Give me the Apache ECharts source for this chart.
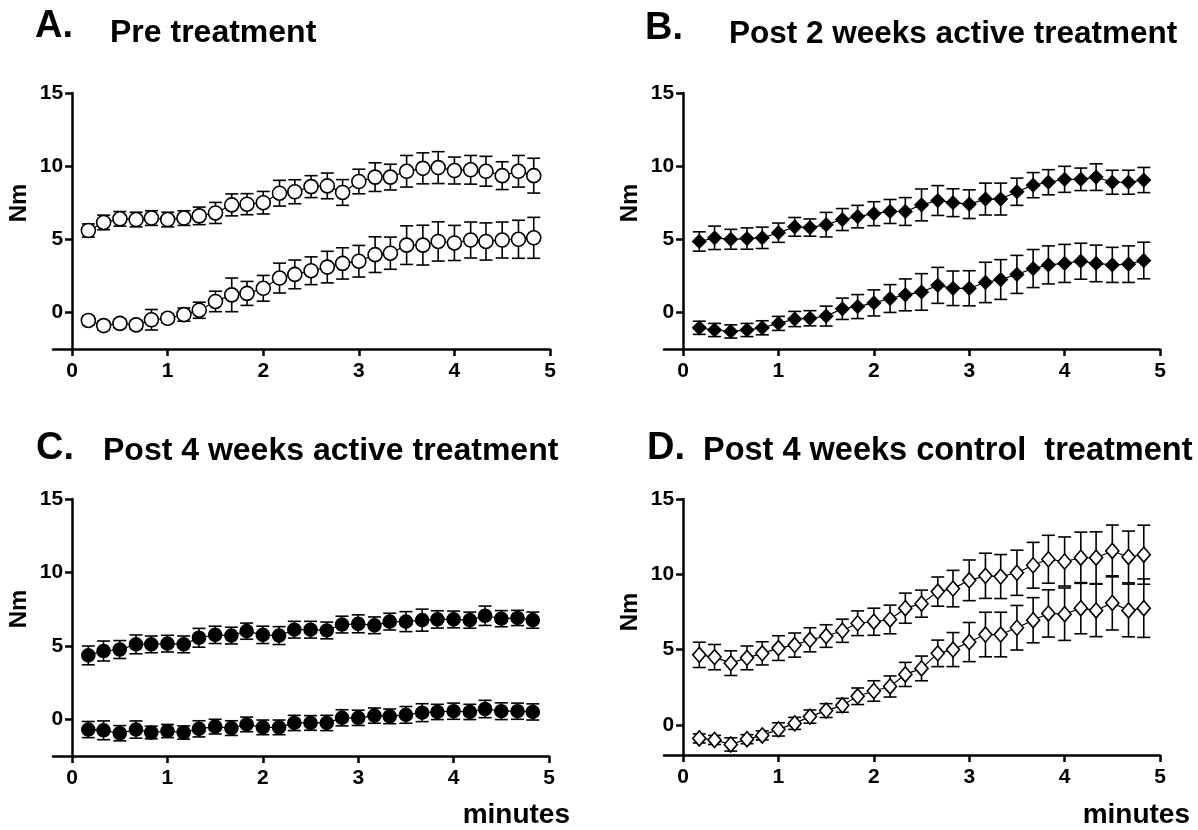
<!DOCTYPE html>
<html>
<head>
<meta charset="utf-8">
<script src="https://cdn.jsdelivr.net/npm/echarts@6/dist/echarts.min.js"></script>
<style>
  html, body { margin: 0; padding: 0; background: #fff; }
  #main { width: 1198px; height: 830px; }
</style>
</head>
<body>
<div id="main"></div>
<script>
// time points (minutes)
var minutes = [0.17, 0.33, 0.5, 0.67, 0.83, 1.0, 1.17, 1.33, 1.5, 1.67, 1.83, 2.0, 2.17, 2.33, 2.5,
  2.67, 2.83, 3.0, 3.17, 3.33, 3.5, 3.67, 3.83, 4.0, 4.17, 4.33, 4.5, 4.67, 4.83];

// A. pre treatment
var preUpper = [5.6, 6.15, 6.4, 6.35, 6.45, 6.35, 6.45, 6.6, 6.8, 7.35, 7.4, 7.5, 8.15, 8.25, 8.6,
  8.65, 8.2, 8.95, 9.25, 9.25, 9.65, 9.85, 9.9, 9.7, 9.75, 9.65, 9.35, 9.65, 9.35];
var preUpperErr = [0.45, 0.5, 0.5, 0.5, 0.5, 0.5, 0.5, 0.6, 0.72, 0.75, 0.72, 0.77, 0.88, 0.82, 0.75,
  0.88, 0.88, 0.84, 0.98, 0.88, 1.08, 1.06, 1.09, 0.92, 0.98, 1.02, 0.95, 1.08, 1.19];
var preLower = [-0.55, -0.9, -0.75, -0.85, -0.5, -0.4, -0.15, 0.15, 0.75, 1.2, 1.3, 1.65, 2.35, 2.6, 2.85,
  3.1, 3.35, 3.5, 3.95, 4.05, 4.6, 4.6, 4.85, 4.75, 4.95, 4.85, 4.95, 5.0, 5.1];
var preLowerErr = [0.3, 0.3, 0.3, 0.3, 0.7, 0.3, 0.45, 0.55, 0.7, 1.15, 0.82, 0.88, 1.02, 0.98, 0.95,
  1.08, 1.07, 1.08, 1.22, 1.1, 1.32, 1.36, 1.34, 1.2, 1.23, 1.27, 1.23, 1.3, 1.4];

// B. post 2 weeks active
var wk2Upper = [4.85, 5.1, 5.0, 5.05, 5.1, 5.45, 5.85, 5.8, 6.0, 6.35, 6.55, 6.75, 6.9, 6.9, 7.35,
  7.65, 7.5, 7.4, 7.75, 7.75, 8.25, 8.7, 8.9, 9.1, 9.1, 9.25, 8.9, 8.9, 9.05];
var wk2UpperErr = [0.66, 0.8, 0.68, 0.73, 0.73, 0.66, 0.64, 0.59, 0.84, 0.75, 0.77, 0.82, 0.82, 0.95, 1.09,
  1.02, 0.95, 0.98, 1.09, 1.09, 0.93, 0.86, 0.86, 0.89, 0.77, 0.91, 0.82, 0.82, 0.86];
var wk2Lower = [-1.05, -1.2, -1.3, -1.2, -1.05, -0.75, -0.45, -0.4, -0.25, 0.25, 0.4, 0.65, 0.95, 1.2, 1.4,
  1.85, 1.65, 1.65, 2.05, 2.25, 2.6, 3.0, 3.25, 3.35, 3.5, 3.35, 3.25, 3.3, 3.55];
var wk2LowerErr = [0.45, 0.45, 0.45, 0.45, 0.48, 0.48, 0.52, 0.52, 0.68, 0.73, 0.82, 0.89, 0.95, 1.09, 1.25,
  1.23, 1.18, 1.2, 1.38, 1.36, 1.3, 1.3, 1.3, 1.3, 1.23, 1.25, 1.2, 1.25, 1.25];

// C. post 4 weeks active
var wk4Upper = [4.35, 4.65, 4.75, 5.1, 5.1, 5.15, 5.1, 5.55, 5.75, 5.7, 6.0, 5.75, 5.7, 6.1, 6.1,
  6.05, 6.45, 6.5, 6.4, 6.65, 6.65, 6.75, 6.8, 6.8, 6.75, 7.05, 6.85, 6.9, 6.75];
var wk4UpperErr = [0.64, 0.68, 0.61, 0.64, 0.57, 0.57, 0.57, 0.64, 0.59, 0.57, 0.55, 0.59, 0.61, 0.57, 0.57,
  0.57, 0.57, 0.61, 0.57, 0.57, 0.68, 0.75, 0.59, 0.57, 0.55, 0.66, 0.55, 0.52, 0.55];
var wk4Lower = [-0.7, -0.75, -0.95, -0.7, -0.9, -0.8, -0.9, -0.65, -0.5, -0.6, -0.35, -0.55, -0.55, -0.25, -0.25,
  -0.25, 0.1, 0.1, 0.25, 0.2, 0.3, 0.45, 0.5, 0.55, 0.5, 0.7, 0.55, 0.55, 0.5];
var wk4LowerErr = [0.55, 0.64, 0.52, 0.59, 0.43, 0.45, 0.45, 0.55, 0.5, 0.5, 0.5, 0.5, 0.5, 0.52, 0.5,
  0.52, 0.55, 0.52, 0.52, 0.5, 0.57, 0.61, 0.52, 0.55, 0.52, 0.59, 0.57, 0.55, 0.55];

// D. post 4 weeks control
var ctlUpper = [4.65, 4.5, 4.1, 4.45, 4.75, 5.1, 5.3, 5.65, 5.9, 6.25, 6.75, 6.85, 7.0, 7.75, 8.05,
  8.85, 9.05, 9.6, 9.9, 9.85, 10.1, 10.6, 11.0, 10.85, 11.1, 11.1, 11.55, 11.15, 11.3];
var ctlUpperErr = [0.84, 0.84, 0.82, 0.79, 0.77, 0.82, 0.8, 0.8, 0.75, 0.77, 0.82, 0.9, 0.95, 1.0, 0.9,
  0.97, 1.21, 1.35, 1.5, 1.46, 1.5, 1.52, 1.59, 1.63, 1.7, 1.72, 1.72, 1.72, 1.96];
var ctlLower = [-0.9, -1.0, -1.3, -0.95, -0.7, -0.3, 0.1, 0.55, 0.95, 1.3, 1.9, 2.25, 2.55, 3.35, 3.75,
  4.75, 5.0, 5.5, 6.0, 6.0, 6.45, 6.95, 7.4, 7.35, 7.75, 7.6, 8.1, 7.6, 7.75];
var ctlLowerErr = [0.3, 0.3, 0.44, 0.3, 0.3, 0.44, 0.4, 0.44, 0.46, 0.46, 0.55, 0.68, 0.7, 0.8, 0.82,
  0.88, 1.13, 1.3, 1.48, 1.48, 1.48, 1.5, 1.57, 1.74, 1.7, 1.74, 1.8, 1.75, 1.94];

var xTicks = [0, 1, 2, 3, 4, 5];
var yTicks = [0, 5, 10, 15];
var X_MIN = -0.2, X_MAX = 5;

var FONT = "'Liberation Sans', Arial, Helvetica, sans-serif";

var chart = echarts.init(document.getElementById("main"));

// panel layout
var panels = [
  { left: 53, top: 93, width: 497, height: 256, yMin: -2.5, sym: "circle", size: 14, fill: "#fff",
    series: [[preUpper, preUpperErr], [preLower, preLowerErr]] },
  { left: 664, top: 93, width: 496, height: 256, yMin: -2.5, sym: "diamond", size: 13, fill: "#000",
    series: [[wk2Upper, wk2UpperErr], [wk2Lower, wk2LowerErr]] },
  { left: 53, top: 499, width: 496, height: 257, yMin: -2.5, sym: "circle", size: 13, fill: "#000",
    series: [[wk4Upper, wk4UpperErr], [wk4Lower, wk4LowerErr]] },
  { left: 664, top: 499, width: 496, height: 256, yMin: -2, sym: "diamond", size: [13, 15], fill: "#fff",
    series: [[ctlUpper, ctlUpperErr], [ctlLower, ctlLowerErr]] },
];

// error bar (vertical line + caps)
function renderErr(params, api) {
  var x = api.value(0);
  var lo = api.coord([x, api.value(1)]);
  var hi = api.coord([x, api.value(2)]);
  var hw = 6.5;
  var st = { stroke: "#000", lineWidth: 1.6 };
  return {
    type: "group",
    children: [
      { type: "line", shape: { x1: lo[0], y1: lo[1], x2: hi[0], y2: hi[1] }, style: st },
      { type: "line", shape: { x1: hi[0] - hw, y1: hi[1], x2: hi[0] + hw, y2: hi[1] }, style: st },
      { type: "line", shape: { x1: lo[0] - hw, y1: lo[1], x2: lo[0] + hw, y2: lo[1] }, style: st },
    ],
  };
}

var grids = [], xAxes = [], yAxes = [], series = [];
panels.forEach(function (p, i) {
  grids.push({ left: p.left, top: p.top, width: p.width, height: p.height, containLabel: false });
  xAxes.push({
    gridIndex: i,
    type: "value",
    min: X_MIN,
    max: X_MAX,
    axisLine: { onZero: false, lineStyle: { color: "#000", width: 2.5 } },
    axisTick: { customValues: xTicks, length: 7, lineStyle: { color: "#000", width: 2.5 } },
    axisLabel: { customValues: xTicks, color: "#000", fontSize: 21, fontWeight: "bold", fontFamily: FONT, margin: 12 },
    splitLine: { show: false },
  });
  // y axis sits at x = 0, moved in from the grid's left edge
  yAxes.push({
    gridIndex: i,
    type: "value",
    min: p.yMin,
    max: 15,
    offset: -p.width * (0 - X_MIN) / (X_MAX - X_MIN),
    axisLine: { show: true, onZero: false, lineStyle: { color: "#000", width: 2.5 } },
    axisTick: { customValues: yTicks, length: 7, lineStyle: { color: "#000", width: 2.5 } },
    axisLabel: { customValues: yTicks, color: "#000", fontSize: 21, fontWeight: "bold", fontFamily: FONT, margin: 9 },
    splitLine: { show: false },
  });
  p.series.forEach(function (s) {
    var mean = s[0], err = s[1];
    series.push({
      type: "custom",
      xAxisIndex: i,
      yAxisIndex: i,
      z: 2,
      silent: true,
      renderItem: renderErr,
      data: minutes.map(function (t, k) { return [t, mean[k] - err[k], mean[k] + err[k]]; }),
    });
    series.push({
      type: "line",
      xAxisIndex: i,
      yAxisIndex: i,
      z: 3,
      symbol: p.sym,
      symbolSize: p.size,
      showAllSymbol: true,
      lineStyle: { color: "#000", width: 1.2 },
      itemStyle: { color: p.fill, borderColor: "#000", borderWidth: 1.6 },
      data: minutes.map(function (t, k) { return [t, mean[k]]; }),
    });
  });
});

function txt(x, y, text, size, opts) {
  opts = opts || {};
  return {
    type: "text",
    x: x,
    y: y,
    rotation: opts.rotation || 0,
    style: {
      text: text,
      fontSize: size,
      fontWeight: "bold",
      fontFamily: FONT,
      fill: "#000",
      align: opts.align || "left",
      verticalAlign: "middle",
      textAlign: opts.align || "left",
      textVerticalAlign: "middle",
    },
  };
}

var graphics = [
  txt(35, 27, "A.", 38),
  txt(110, 33, "Pre treatment", 32),
  txt(645, 29, "B.", 38),
  txt(729, 34, "Post 2 weeks active treatment", 31.5),
  txt(36, 449, "C.", 38),
  txt(103, 451, "Post 4 weeks active treatment", 32),
  txt(647, 449, "D.", 38),
  txt(703, 451, "Post 4 weeks control  treatment", 32.5),
  txt(19, 203, "Nm", 24, { rotation: Math.PI / 2, align: "center" }),
  txt(630, 203, "Nm", 24, { rotation: Math.PI / 2, align: "center" }),
  txt(19, 609, "Nm", 24, { rotation: Math.PI / 2, align: "center" }),
  txt(630, 612, "Nm", 24, { rotation: Math.PI / 2, align: "center" }),
  txt(570, 815, "minutes", 28, { align: "right" }),
  txt(1190, 815, "minutes", 28, { align: "right" }),
];

var option = {
  backgroundColor: "#fff",
  animation: false,
  grid: grids,
  xAxis: xAxes,
  yAxis: yAxes,
  series: series,
  graphic: graphics,
};
chart.setOption(option);
</script>
</body>
</html>
